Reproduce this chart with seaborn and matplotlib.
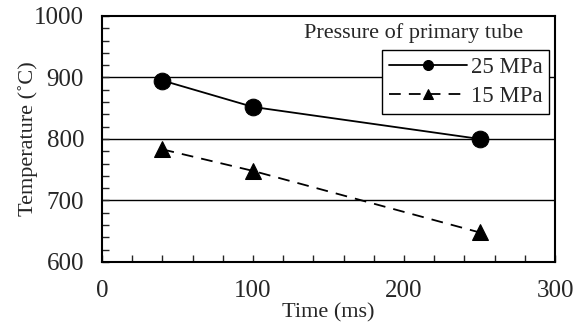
import matplotlib
matplotlib.use("Agg")
import matplotlib.pyplot as plt
import seaborn as sns
import pandas as pd
from matplotlib.ticker import MultipleLocator

sns.set_style("ticks")
plt.rcParams['font.family'] = ['Liberation Serif', 'DejaVu Serif']

time_ms = [40, 100, 250]
temp_25 = [895, 852, 800]
temp_15 = [783, 748, 648]
series_names = ["25 MPa", "15 MPa"]

df = pd.DataFrame({
    "Time": time_ms * 2,
    "Temp": temp_25 + temp_15,
    "Pressure": [series_names[0]] * 3 + [series_names[1]] * 3,
})

fig = plt.figure(figsize=(5.8, 3.25), dpi=100)
ax = fig.add_axes([0.176, 0.194, 0.781, 0.757])

for y in [700, 800, 900]:
    ax.axhline(y, color="black", lw=1.0, zorder=0)

sns.lineplot(data=df, x="Time", y="Temp", style="Pressure", color="black",
             markers={"25 MPa": "o", "15 MPa": "^"},
             dashes={"25 MPa": "", "15 MPa": (6.5, 4.5)},
             markersize=12, lw=1.3, markeredgecolor="black", ax=ax,
             legend=True)

ax.set_xlim(0, 300)
ax.set_ylim(600, 1000)
ax.xaxis.set_major_locator(MultipleLocator(100))
ax.xaxis.set_minor_locator(MultipleLocator(20))
ax.yaxis.set_major_locator(MultipleLocator(100))
ax.yaxis.set_minor_locator(MultipleLocator(20))
ax.tick_params(which="both", direction="in", length=5, width=1, top=False, right=False,
               labelsize=18)
ax.tick_params(axis="x", which="both", pad=13)
ax.tick_params(axis="y", which="both", pad=13)
for s in ax.spines.values():
    s.set_linewidth(1.5)
    s.set_color("black")

ax.set_xlabel("Time (ms)", fontsize=16, labelpad=1)
ax.set_ylabel("Temperature (˚C)", fontsize=16, labelpad=-3)

ax.text(0.929, 0.931, "Pressure of primary tube", transform=ax.transAxes,
        ha="right", va="center", fontsize=16)
leg = ax.legend(loc="upper right", bbox_to_anchor=(0.987, 0.862), fontsize=16.5,
                frameon=True, fancybox=False, edgecolor="black", framealpha=1,
                handlelength=3.4, borderpad=0.3, labelspacing=0.35,
                handletextpad=0.15, borderaxespad=0, markerscale=0.6)
leg.get_frame().set_linewidth(1.0)

fig.savefig("out.png", dpi=100)
